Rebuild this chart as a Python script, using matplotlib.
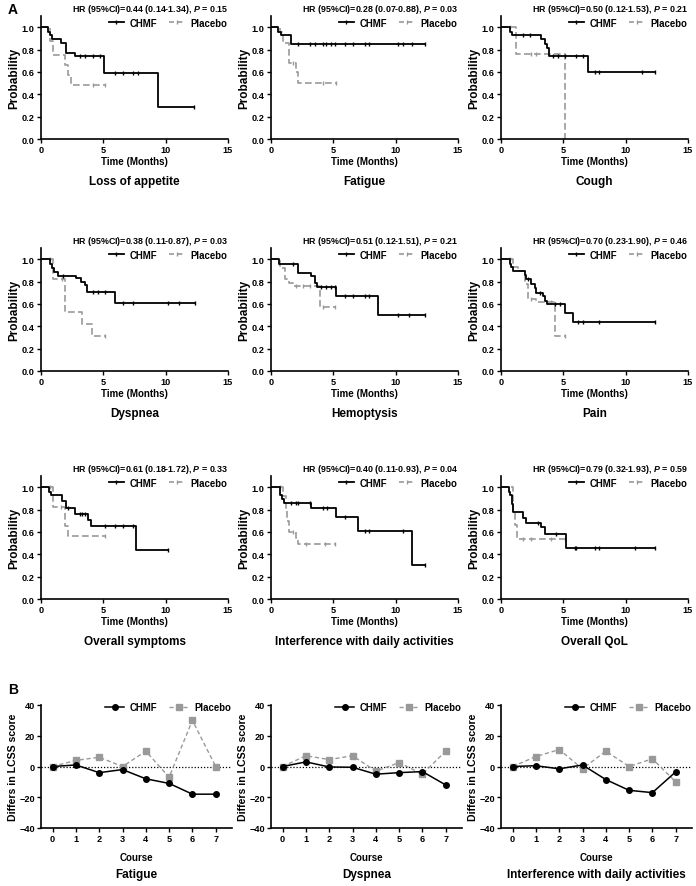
#!/usr/bin/env python3

import matplotlib
matplotlib.use("Agg")
import matplotlib.pyplot as plt
from matplotlib.lines import Line2D
import numpy as np

plt.rcParams["font.family"] = ["Liberation Sans", "DejaVu Sans"]
plt.rcParams["font.weight"] = "bold"
plt.rcParams["mathtext.fontset"] = "custom"
plt.rcParams["mathtext.rm"] = "Liberation Sans:bold"
plt.rcParams["mathtext.it"] = "Liberation Sans:italic:bold"

# ---- A: Kaplan-Meier data (event times, survival after event, censor times)
appetite_chmf_t = [0.56, 0.75, 0.9, 1.63, 1.98, 2.7, 5.04, 9.4]
appetite_chmf_s = [0.96, 0.93, 0.89, 0.86, 0.77, 0.74, 0.59, 0.29]
appetite_chmf_c = [3.1, 3.5, 4.2, 4.7, 5.9, 6.6, 7.4, 7.8, 12.3]
appetite_plac_t = [0.7, 0.96, 1.9, 2.17, 2.44]
appetite_plac_s = [0.88, 0.75, 0.66, 0.57, 0.48]
appetite_plac_c = [4.2, 5.1]

fatigue_chmf_t = [0.56, 0.83, 1.63]
fatigue_chmf_s = [0.96, 0.93, 0.85]
fatigue_chmf_c = [2.17, 3.1, 3.5, 4.2, 4.4, 4.85, 5.1, 5.9, 6.6, 7.5, 7.9, 10.2, 10.6, 11.3, 12.35]
fatigue_plac_t = [0.7, 0.96, 1.45, 2.0, 2.17]
fatigue_plac_s = [0.96, 0.86, 0.68, 0.60, 0.50]
fatigue_plac_c = [1.77, 4.2, 5.2]

cough_chmf_t = [0.7, 0.88, 3.24, 3.5, 3.7, 3.86, 7.0]
cough_chmf_s = [0.96, 0.93, 0.89, 0.85, 0.81, 0.74, 0.595]
cough_chmf_c = [1.77, 2.3, 4.2, 4.6, 5.1, 6.05, 6.6, 7.5, 7.9, 11.3, 12.35]
cough_plac_t = [1.18, 5.1]
cough_plac_s = [0.76, 0.0]
cough_plac_c = [0.7, 2.4, 2.8]

dyspnea_chmf_t = [0.7, 0.88, 1.05, 1.37, 2.84, 3.24, 3.5, 3.7, 5.92]
dyspnea_chmf_s = [0.96, 0.92, 0.885, 0.85, 0.83, 0.80, 0.77, 0.71, 0.605]
dyspnea_chmf_c = [1.77, 4.2, 4.6, 5.1, 6.6, 7.4, 10.2, 11.1, 12.35]
dyspnea_plac_t = [0.96, 1.9, 3.32, 4.12]
dyspnea_plac_s = [0.82, 0.53, 0.42, 0.31]
dyspnea_plac_c = [0.7, 1.7, 5.1]

hemo_chmf_t = [0.64, 2.17, 3.24, 3.5, 3.7, 5.25, 8.6]
hemo_chmf_s = [0.96, 0.88, 0.85, 0.79, 0.75, 0.67, 0.505]
hemo_chmf_c = [1.77, 4.0, 4.4, 4.8, 5.1, 5.9, 6.6, 7.5, 7.9, 10.2, 11.1, 12.35]
hemo_plac_t = [0.7, 1.1, 1.45, 1.77, 3.9]
hemo_plac_s = [0.92, 0.82, 0.79, 0.76, 0.57]
hemo_plac_c = [2.04, 2.57, 3.1, 4.2, 5.1]

pain_chmf_t = [0.7, 0.83, 0.96, 1.9, 2.04, 2.44, 2.7, 2.84, 3.37, 3.5, 3.7, 5.1, 5.8]
pain_chmf_s = [0.96, 0.93, 0.89, 0.86, 0.82, 0.78, 0.74, 0.70, 0.67, 0.63, 0.60, 0.52, 0.435]
pain_chmf_c = [2.17, 3.1, 4.3, 4.7, 6.2, 6.6, 7.9, 12.35]
pain_plac_t = [0.96, 1.37, 1.9, 2.17, 2.84, 4.3]
pain_plac_s = [0.93, 0.89, 0.78, 0.64, 0.62, 0.31]
pain_plac_c = [0.7, 2.44, 4.0, 5.1]

overall_chmf_t = [0.64, 0.83, 1.7, 1.98, 2.7, 3.78, 4.05, 7.66]
overall_chmf_s = [0.96, 0.93, 0.88, 0.81, 0.76, 0.71, 0.65, 0.435]
overall_chmf_c = [2.17, 3.1, 3.3, 3.5, 5.1, 5.9, 6.6, 7.4, 10.2]
overall_plac_t = [0.96, 1.9, 2.17]
overall_plac_s = [0.82, 0.65, 0.56]
overall_plac_c = [0.7, 1.63, 5.1]

interf_chmf_t = [0.7, 0.88, 1.05, 3.24, 5.2, 7.0, 11.3]
interf_chmf_s = [0.93, 0.89, 0.855, 0.81, 0.73, 0.61, 0.305]
interf_chmf_c = [1.63, 2.04, 2.17, 3.1, 4.2, 4.5, 5.9, 7.5, 7.9, 10.6, 12.35]
interf_plac_t = [1.0, 1.18, 1.3, 1.45, 2.04, 2.17]
interf_plac_s = [0.92, 0.80, 0.70, 0.60, 0.55, 0.49]
interf_plac_c = [0.7, 1.77, 2.8, 4.3, 5.1]

qol_chmf_t = [0.64, 0.75, 0.88, 1.0, 1.77, 2.04, 3.24, 3.5, 5.2]
qol_chmf_s = [0.96, 0.93, 0.85, 0.78, 0.72, 0.68, 0.64, 0.58, 0.455]
qol_chmf_c = [3.0, 4.45, 5.9, 6.05, 7.5, 7.9, 10.75, 12.35]
qol_plac_t = [0.96, 1.1, 1.3]
qol_plac_s = [0.77, 0.66, 0.535]
qol_plac_c = [1.77, 2.44, 4.0, 5.1]

km_titles = ["Loss of appetite", "Fatigue", "Cough",
             "Dyspnea", "Hemoptysis", "Pain",
             "Overall symptoms", "Interference with daily activities", "Overall QoL"]
km_hr = ["0.44 (0.14-1.34)", "0.28 (0.07-0.88)", "0.50 (0.12-1.53)",
         "0.38 (0.11-0.87)", "0.51 (0.12-1.51)", "0.70 (0.23-1.90)",
         "0.61 (0.18-1.72)", "0.40 (0.11-0.93)", "0.79 (0.32-1.93)"]
km_p = ["0.15", "0.03", "0.21", "0.03", "0.21", "0.46", "0.33", "0.04", "0.59"]

# ---- B: change in LCSS score per course
courses = [0, 1, 2, 3, 4, 5, 6, 7]
fatigue_chmf = [0, 1, -4, -2, -8, -11, -18, -18]
fatigue_plac = [0, 4, 6, 0, 10, -7, 30, 0]
dyspnea_chmf = [0, 3, -0.3, -0.5, -5, -4, -3.3, -12]
dyspnea_plac = [0, 7, 4.5, 7, -3, 2.5, -5, 10]
interf_chmf = [0, 0.5, -1.5, 1, -8.5, -15.5, -17, -3.5]
interf_plac = [0, 6.5, 11, -1.5, 10, 0, 5, -10]
lcss_titles = ["Fatigue", "Dyspnea", "Interference with daily activities"]

GRAY = "#999999"
W, H = 696, 887


def surv_at(t, s, x):
    out = 1.0
    for ti, si in zip(t, s):
        if ti <= x:
            out = si
    return out


def draw_km(ax, t, s, c, color, ls, lw):
    end = max(t[-1], c[-1]) if c else t[-1]
    xs = [0] + list(t) + [end]
    ys = [1.0] + list(s) + [s[-1]]
    ax.step(xs, ys, where="post", color=color, ls=ls, lw=lw)
    ax.plot(c, [surv_at(t, s, x) for x in c], ls="none", marker="|",
            ms=3.5, mew=1.0, color=color)


def style_axes(ax):
    for side in ["top", "right"]:
        ax.spines[side].set_visible(False)
    for side in ["left", "bottom"]:
        ax.spines[side].set_linewidth(1.2)
    ax.tick_params(direction="out", length=3, width=1.0, labelsize=6.6, pad=1.5)
    for lab in ax.get_xticklabels() + ax.get_yticklabels():
        lab.set_fontweight("bold")


def px_axes(fig, left, top, right, bottom):
    return fig.add_axes([left / W, 1 - bottom / H, (right - left) / W, (bottom - top) / H])


km_data = [
    (appetite_chmf_t, appetite_chmf_s, appetite_chmf_c, appetite_plac_t, appetite_plac_s, appetite_plac_c),
    (fatigue_chmf_t, fatigue_chmf_s, fatigue_chmf_c, fatigue_plac_t, fatigue_plac_s, fatigue_plac_c),
    (cough_chmf_t, cough_chmf_s, cough_chmf_c, cough_plac_t, cough_plac_s, cough_plac_c),
    (dyspnea_chmf_t, dyspnea_chmf_s, dyspnea_chmf_c, dyspnea_plac_t, dyspnea_plac_s, dyspnea_plac_c),
    (hemo_chmf_t, hemo_chmf_s, hemo_chmf_c, hemo_plac_t, hemo_plac_s, hemo_plac_c),
    (pain_chmf_t, pain_chmf_s, pain_chmf_c, pain_plac_t, pain_plac_s, pain_plac_c),
    (overall_chmf_t, overall_chmf_s, overall_chmf_c, overall_plac_t, overall_plac_s, overall_plac_c),
    (interf_chmf_t, interf_chmf_s, interf_chmf_c, interf_plac_t, interf_plac_s, interf_plac_c),
    (qol_chmf_t, qol_chmf_s, qol_chmf_c, qol_plac_t, qol_plac_s, qol_plac_c),
]

fig = plt.figure(figsize=(W / 100, H / 100), dpi=100)

col_left = [41, 271, 501]
row_bottom = [140, 372, 600]
km_height = 123

for i, (ct, cs, cc, pt, ps, pc) in enumerate(km_data):
    r, k = divmod(i, 3)
    left = col_left[k]
    ax = px_axes(fig, left, row_bottom[r] - km_height, left + 187, row_bottom[r])
    draw_km(ax, pt, ps, pc, GRAY, (0, (4, 2)), 1.2)
    draw_km(ax, ct, cs, cc, "black", "-", 1.3)
    ax.set_xlim(0, 15)
    ax.set_ylim(0, 1.1)
    ax.set_xticks([0, 5, 10, 15])
    ax.set_yticks(np.arange(0, 1.01, 0.2))
    ax.yaxis.set_major_formatter(matplotlib.ticker.FormatStrFormatter("%.1f"))
    style_axes(ax)
    ax.set_xlabel("Time (Months)", fontsize=7, fontweight="bold", labelpad=1)
    ax.set_ylabel("Probability", fontsize=8.5, fontweight="bold", labelpad=1)
    ax.text(1.0, 1.01, f"HR (95%CI)={km_hr[i]}, $P$ = {km_p[i]}", transform=ax.transAxes,
            ha="right", va="bottom", fontsize=6.4, fontweight="bold")
    handles = [
        Line2D([], [], color="black", lw=1.3, marker="|", ms=3, mew=1.0),
        Line2D([], [], color=GRAY, lw=1.2, ls=(0, (3, 2)), marker="|", ms=3, mew=1.0),
    ]
    ax.legend(handles, ["CHMF", "Placebo"], loc="upper right", bbox_to_anchor=(1.02, 1.025),
              ncol=2, frameon=False, handlelength=1.6, handletextpad=0.6,
              columnspacing=1.2, borderaxespad=0.1,
              prop={"weight": "bold", "size": 6.9})
    ax.text(0.5, -0.34, km_titles[i], transform=ax.transAxes, ha="center", va="center",
            fontsize=8.5, fontweight="bold")

# ---- B panels
lcss_data = [(fatigue_chmf, fatigue_plac), (dyspnea_chmf, dyspnea_plac), (interf_chmf, interf_plac)]
for k, (chmf, plac) in enumerate(lcss_data):
    left = col_left[k]
    ax = px_axes(fig, left, 706, left + 191, 829)
    ax.axhline(0, color="black", ls=(0, (1, 1.5)), lw=0.9)
    ax.plot(courses, plac, color=GRAY, ls=(0, (3, 2)), lw=1.0, marker="s", ms=4, label="Placebo")
    ax.plot(courses, chmf, color="black", ls="-", lw=1.1, marker="o", ms=4, label="CHMF")
    ax.set_xlim(-0.5, 7.7)
    ax.set_ylim(-40, 40)
    ax.set_xticks(courses)
    ax.set_yticks([-40, -20, 0, 20, 40])
    style_axes(ax)
    ax.set_xlabel("Course", fontsize=7, fontweight="bold", labelpad=6)
    ax.set_ylabel("Differs in LCSS score", fontsize=7.6, fontweight="bold", labelpad=1)
    handles = [
        Line2D([], [], color="black", lw=1.1, marker="o", ms=4),
        Line2D([], [], color=GRAY, lw=1.0, ls=(0, (3, 2)), marker="s", ms=4),
    ]
    ax.legend(handles, ["CHMF", "Placebo"], loc="upper right", bbox_to_anchor=(1.02, 1.06),
              ncol=2, frameon=False, handlelength=2.0, handletextpad=0.6,
              columnspacing=1.2, borderaxespad=0.1, prop={"weight": "bold", "size": 6.9})
    ax.text(0.5, -0.37, lcss_titles[k], transform=ax.transAxes, ha="center", va="center",
            fontsize=8.5, fontweight="bold")

fig.text(8 / W, 1 - 10 / H, "A", fontsize=10, fontweight="bold", va="center")
fig.text(8 / W, 1 - 690 / H, "B", fontsize=10, fontweight="bold", va="center")

fig.savefig("out.png", dpi=100)
